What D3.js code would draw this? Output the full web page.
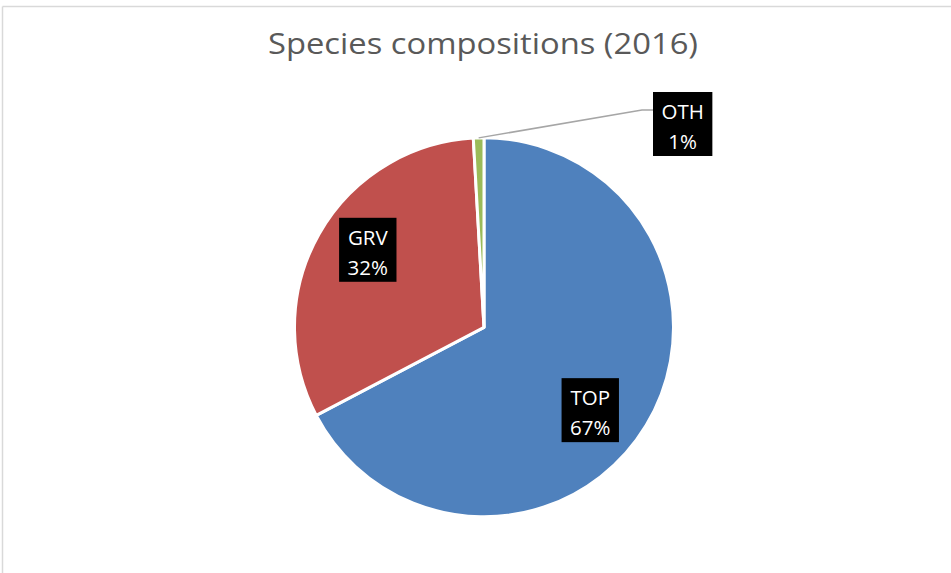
<!DOCTYPE html>
<html>
<head>
<meta charset="utf-8">
<script src="https://cdn.jsdelivr.net/npm/d3@7/dist/d3.min.js"></script>
<style>
  html, body { margin: 0; padding: 0; background: #fff; }
  svg { display: block; }
</style>
</head>
<body>
<svg id="chart" width="951" height="573"></svg>
<script>
const title = "Species compositions (2016)";
const categories = ["TOP", "GRV", "OTH"];
const values = [67.3, 31.8, 0.9];
const labels = ["67%", "32%", "1%"];
const colors = ["#4f81bd", "#c0504d", "#9bbb59"];

const W = 951, H = 573;
const svg = d3.select("#chart");
const font = "'Open Sans', Lato, sans-serif";

// chart border (top and left visible)
svg.append("line").attr("x1", 2.5).attr("y1", 6.5).attr("x2", W).attr("y2", 6.5)
  .attr("stroke", "#d9d9d9").attr("stroke-width", 1.5);
svg.append("line").attr("x1", 2.5).attr("y1", 6.5).attr("x2", 2.5).attr("y2", H)
  .attr("stroke", "#d9d9d9").attr("stroke-width", 1.5);

// title
svg.append("text").attr("x", 483).attr("y", 54)
  .attr("text-anchor", "middle")
  .attr("font-family", font).attr("font-size", 29)
  .attr("fill", "#595959")
  .attr("textLength", 430).attr("lengthAdjust", "spacingAndGlyphs")
  .text(title);

const cx = 484, cy = 327.3, R = 189.5;
const data = categories.map((c, i) => ({ cat: c, value: values[i], label: labels[i], color: colors[i] }));

const pie = d3.pie().value(d => d.value).sort(null);
const arcs = pie(data);
const arc = d3.arc().innerRadius(0).outerRadius(R);

const g = svg.append("g").attr("transform", `translate(${cx},${cy})`);
g.selectAll("path").data(arcs).enter().append("path")
  .attr("d", arc)
  .attr("fill", d => d.data.color)
  .attr("stroke", "#fff")
  .attr("stroke-width", 3)
  .attr("stroke-linejoin", "round");

// labels
const labelArc = d3.arc().innerRadius(137).outerRadius(137);
const nudges = { TOP: [-11, 12], GRV: [3, -10] };
const boxH = 64, pad = 8.5;

function drawLabel(x, y, d, anchorLeft) {
  const lg = g.append("g");
  const rect = lg.append("rect").attr("fill", "#000");
  const t1 = lg.append("text").attr("x", 0).attr("y", -5)
    .attr("text-anchor", "middle").attr("font-family", font)
    .attr("font-size", 20.5).attr("fill", "#fff").text(d.data.cat);
  const t2 = lg.append("text").attr("x", 0).attr("y", 25)
    .attr("text-anchor", "middle").attr("font-family", font)
    .attr("font-size", 20.5).attr("fill", "#fff").text(d.data.label);
  const tw = Math.max(t1.node().getComputedTextLength(), t2.node().getComputedTextLength());
  const bw = tw + 2 * pad;
  rect.attr("x", -bw / 2).attr("y", -boxH / 2).attr("width", bw).attr("height", boxH);
  const gx = anchorLeft ? x + bw / 2 : x;
  lg.attr("transform", `translate(${gx},${y})`);
}

arcs.forEach(d => {
  if (d.data.cat === "OTH") {
    const mid = (d.startAngle + d.endAngle) / 2;
    const p0 = [R * Math.sin(mid), -R * Math.cos(mid)];
    const boxLeft = 653 - cx, boxCy = 124 - cy;
    const p2 = [boxLeft, 110 - cy];
    const p1 = [p2[0] - 11, p2[1]];
    g.append("polyline")
      .attr("points", [p0, p1, p2].map(p => p.join(",")).join(" "))
      .attr("fill", "none").attr("stroke", "#a6a6a6").attr("stroke-width", 1.5);
    drawLabel(boxLeft, boxCy, d, true);
  } else {
    const c = labelArc.centroid(d);
    const n = nudges[d.data.cat];
    drawLabel(c[0] + n[0], c[1] + n[1], d, false);
  }
});
</script>
</body>
</html>
